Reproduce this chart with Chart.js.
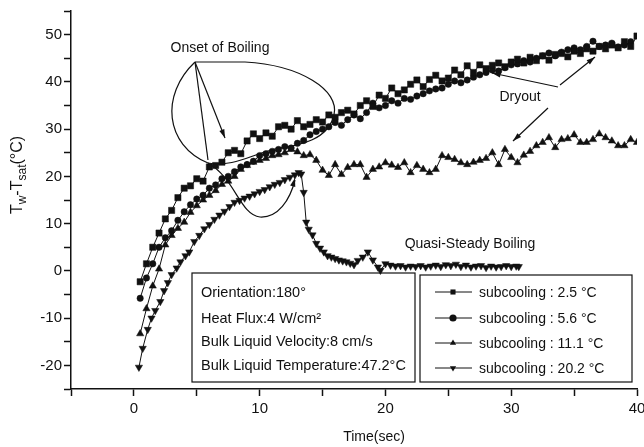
<!DOCTYPE html>
<html>
<head>
<meta charset="utf-8">
<script src="https://cdn.jsdelivr.net/npm/chart.js"></script>
<style>
body { margin: 0; background: #fff; }
</style>
</head>
<body>
<canvas id="chart" width="644" height="447"></canvas>
<script>
// time axis shared by the first three runs (s)
var times = [0.5, 1, 1.5, 2, 2.5, 3, 3.5, 4, 4.5, 5, 5.5, 6, 6.5, 7, 7.5, 8, 8.5, 9, 9.5, 10,
  10.5, 11, 11.5, 12, 12.5, 13, 13.5, 14, 14.5, 15, 15.5, 16, 16.5, 17, 17.5, 18, 18.5, 19, 19.5, 20,
  20.5, 21, 21.5, 22, 22.5, 23, 23.5, 24, 24.5, 25, 25.5, 26, 26.5, 27, 27.5, 28, 28.5, 29, 29.5, 30,
  30.5, 31, 31.5, 32, 32.5, 33, 33.5, 34, 34.5, 35, 35.5, 36, 36.5, 37, 37.5, 38, 38.5, 39, 39.5, 40];

// Tw - Tsat (C)
var sub25 = [-2.3, 1.5, 5, 8, 11, 12.8, 15.5, 17.5, 18, 19.5, 19, 22, 22.3, 23, 25, 25.5, 24.8, 27.5, 29, 28,
  29.2, 28.5, 30.5, 30.8, 30, 31.8, 30.5, 31, 32, 31.5, 33, 32.5, 33.5, 34, 33.2, 35, 36, 34.8, 37.2, 36.5,
  38.7, 37.5, 38.3, 39.5, 40.4, 39, 40.5, 41.4, 40.2, 40.8, 42.5, 41.5, 43.4, 42, 43.6, 42.8, 43.5, 44, 43.2, 44.2,
  44.8, 44, 45.2, 44.5, 45.5, 44.6, 45.8, 46, 45.3, 46.5, 46, 47, 46.5, 47.5, 47, 47.8, 47.2, 48.5, 47.5, 49.7];

var sub56 = [-5.8, -1.5, 1.5, 5, 7, 8.5, 10.7, 12.5, 14, 15.2, 16, 17.5, 18.2, 19.5, 20, 21, 22, 22.5, 23.2, 24.4,
  24.8, 25.3, 25.7, 26.3, 26, 27, 27.6, 28.8, 29.5, 30, 30.5, 31.4, 30.8, 32, 33, 32.2, 33.5, 35.5, 34.5, 35,
  36, 35.5, 36.5, 36.3, 37, 37.5, 38.1, 38.5, 38.7, 39.5, 40.2, 39.8, 40.4, 41, 41.5, 42, 42.5, 42.3, 43, 43.6,
  43.8, 44.5, 44.2, 45, 45.5, 46.1, 45.5, 46.3, 46.8, 47.2, 46.8, 47.5, 48.6, 47.5, 47.8, 48.2, 47.4, 47.8, 48.5];

var sub111 = [-13.3, -8, -3.2, 0.4, 5.5, 7.5, 9, 10.3, 12.4, 13.8, 15, 16, 17, 18.3, 19, 20, 21.5, 22.3, 23, 23.4,
  23.8, 24.4, 24.6, 25, 25.7, 25.2, 24.4, 24.6, 23.4, 21.3, 20.2, 22.5, 20.4, 21.9, 22.5, 22.5, 19.8, 21.5, 22, 22.9,
  22.4, 21.9, 22.9, 20.8, 22.3, 21.5, 20.8, 21.5, 24.4, 24, 23.6, 22.9, 22.5, 23, 23.4, 23.8, 25, 22.5, 25.7, 24,
  22.9, 24.5, 25.3, 26.5, 27.2, 28.2, 26.1, 27.8, 28, 28.8, 27.2, 27.2, 27.8, 29, 28.2, 27.5, 26.5, 26.5, 27.8, 27.2];

// the 20.2 C run is sampled on its own clock
var times202 = [0.4, 0.7, 1.1, 1.4, 1.7, 2.1, 2.4, 2.7, 3.0, 3.4, 3.7, 4.1, 4.4, 4.8, 5.2, 5.6, 6.0, 6.4, 6.8, 7.2,
  7.6, 8.0, 8.4, 8.8, 9.2, 9.6, 10.0, 10.4, 10.8, 11.2, 11.6, 12.0, 12.4, 12.8, 13.1, 13.3, 13.5, 13.7, 13.9, 14.2,
  14.5, 14.8, 15.1, 15.4, 15.7, 16.0, 16.3, 16.6, 16.9, 17.2, 17.5, 17.8, 18.2, 18.6, 19.0, 19.4, 19.6, 20.0, 20.4, 20.8,
  21.2, 21.6, 22.0, 22.4, 22.8, 23.2, 23.6, 24.0, 24.4, 24.8, 25.2, 25.6, 26.0, 26.4, 26.8, 27.2, 27.6, 28.0, 28.4, 28.8,
  29.2, 29.6, 30.0, 30.4, 30.6];
var sub202 = [-20.4, -16.4, -12.4, -10, -8.4, -6.5, -4.2, -2.5, -0.8, 0.6, 1.9, 3.2, 4, 6.2, 7.5, 8.9, 9.8, 10.9, 11.8, 12.6,
  13.6, 14.5, 14.9, 15.4, 15.8, 16.3, 16.8, 17.2, 17.8, 18.3, 18.7, 19.3, 19.8, 20.3, 20.8, 20.5, 16.6, 10.3, 8.8, 7.6,
  5.8, 4.8, 4, 3.2, 2.9, 2.6, 2.3, 2.1, 1.9, 1.6, 1.3, 2.2, 2.9, 4, 2.3, 0.8, 0.1, 1.5, 1.2, 1.0,
  1.1, 0.8, 1.0, 0.9, 1.1, 0.8, 1.0, 1.2, 0.9, 1.3, 1.1, 1.4, 0.9, 1.2, 0.8, 1.0, 1.1, 0.7, 1.0, 0.8,
  0.9, 1.1, 0.9, 1.0, 0.9];

var labels = ["subcooling : 2.5 °C", "subcooling : 5.6 °C", "subcooling : 11.1 °C", "subcooling : 20.2 °C"];
var infoLines = ["Orientation:180°", "Heat Flux:4 W/cm²", "Bulk Liquid Velocity:8 cm/s", "Bulk Liquid Temperature:47.2°C"];

function pts(t, v) {
  var out = [];
  for (var i = 0; i < v.length; i++) out.push({x: t[i], y: v[i]});
  return out;
}

function series(label, data, style, radius, rot) {
  return {
    label: label,
    data: data,
    borderColor: "#111",
    borderWidth: 1,
    backgroundColor: "#111",
    pointBackgroundColor: "#111",
    pointBorderColor: "#111",
    pointBorderWidth: 0.5,
    pointStyle: style,
    pointRadius: radius,
    pointRotation: rot,
    tension: 0,
    fill: false
  };
}

function marker(ctx, style, x, y, r, rot) {
  ctx.beginPath();
  if (style == "rect") {
    var s = r * Math.SQRT1_2;
    ctx.rect(x - s, y - s, 2 * s, 2 * s);
  } else if (style == "circle") {
    ctx.arc(x, y, r, 0, Math.PI * 2);
  } else {
    var d = rot == 180 ? -1 : 1;
    ctx.moveTo(x, y - d * r);
    ctx.lineTo(x - r * 0.866, y + d * r / 2);
    ctx.lineTo(x + r * 0.866, y + d * r / 2);
    ctx.closePath();
  }
  ctx.fill();
}

function arrowHead(ctx, x1, y1, x2, y2) {
  var a = Math.atan2(y2 - y1, x2 - x1);
  ctx.beginPath();
  ctx.moveTo(x2, y2);
  ctx.lineTo(x2 - 9 * Math.cos(a - 0.3), y2 - 9 * Math.sin(a - 0.3));
  ctx.lineTo(x2 - 9 * Math.cos(a + 0.3), y2 - 9 * Math.sin(a + 0.3));
  ctx.closePath();
  ctx.fill();
}

function arrow(ctx, x1, y1, x2, y2) {
  ctx.beginPath();
  ctx.moveTo(x1, y1);
  ctx.lineTo(x2, y2);
  ctx.stroke();
  arrowHead(ctx, x1, y1, x2, y2);
}

var notes = {
  id: "notes",
  afterDraw: function (chart) {
    var ctx = chart.ctx;
    ctx.save();
    ctx.fillStyle = "#111";
    ctx.strokeStyle = "#111";
    ctx.lineWidth = 1.2;
    ctx.font = "14px 'Liberation Sans', Arial, sans-serif";

    // onset of boiling
    ctx.textAlign = "center";
    ctx.textBaseline = "middle";
    ctx.fillText("Onset of Boiling", 220, 48);
    ctx.beginPath();
    ctx.moveTo(195, 62); ctx.lineTo(208, 160);
    ctx.stroke();
    arrow(ctx, 195, 62, 225, 138);
    ctx.beginPath();
    ctx.moveTo(195, 62);
    ctx.bezierCurveTo(160, 95, 165, 145, 208, 163);
    ctx.bezierCurveTo(235, 178, 240, 215, 260, 217);
    ctx.bezierCurveTo(278, 218, 290, 200, 295, 180);
    ctx.stroke();
    arrowHead(ctx, 290, 196, 295, 178);
    ctx.beginPath();
    ctx.moveTo(195, 62);
    ctx.lineTo(245, 62);
    ctx.bezierCurveTo(300, 65, 340, 90, 334, 115);
    ctx.bezierCurveTo(328, 140, 300, 145, 280, 148);
    ctx.bezierCurveTo(255, 152, 235, 168, 208, 163);
    ctx.stroke();

    // dryout
    ctx.fillText("Dryout", 520, 97);
    arrow(ctx, 560, 85, 595, 57);
    arrow(ctx, 558, 87, 492, 73);
    arrow(ctx, 548, 108, 513, 141);

    ctx.fillText("Quasi-Steady Boiling", 470, 244);

    // info box
    ctx.strokeRect(192, 273, 223, 109);
    ctx.textAlign = "left";
    ctx.textBaseline = "alphabetic";
    ctx.font = "14.5px 'Liberation Sans', Arial, sans-serif";
    var iy = [297, 323, 346, 370];
    for (var i = 0; i < infoLines.length; i++) ctx.fillText(infoLines[i], 201, iy[i]);

    // legend box
    ctx.strokeRect(420, 275, 212, 107);
    var ly = [292, 318, 343, 368];
    ctx.textBaseline = "middle";
    ctx.font = "14px 'Liberation Sans', Arial, sans-serif";
    chart.data.datasets.forEach(function (ds, i) {
      ctx.lineWidth = 1;
      ctx.beginPath();
      ctx.moveTo(435, ly[i]); ctx.lineTo(472, ly[i]);
      ctx.stroke();
      marker(ctx, ds.pointStyle, 453, ly[i], 3.6, ds.pointRotation);
      ctx.fillText(ds.label, 479, ly[i] + 1);
    });

    // axis titles
    ctx.textAlign = "center";
    ctx.fillText("Time(sec)", 374, 437);

    ctx.translate(18, 175);
    ctx.rotate(-Math.PI / 2);
    var big = "16px 'Liberation Sans', Arial, sans-serif";
    var small = "12px 'Liberation Sans', Arial, sans-serif";
    var parts = [["T", big, 0], ["w", small, 5], ["-T", big, 0], ["sat", small, 5], ["(°C)", big, 0]];
    var w = 0;
    parts.forEach(function (p) { ctx.font = p[1]; w += ctx.measureText(p[0]).width; });
    var x = -w / 2;
    ctx.textAlign = "left";
    ctx.textBaseline = "middle";
    parts.forEach(function (p) {
      ctx.font = p[1];
      ctx.fillText(p[0], x, p[2]);
      x += ctx.measureText(p[0]).width;
    });
    ctx.restore();
  }
};

new Chart(document.getElementById("chart"), {
  type: "line",
  data: {
    datasets: [
      series(labels[0], pts(times, sub25), "rect", 4.4, 0),
      series(labels[1], pts(times, sub56), "circle", 3.2, 0),
      series(labels[2], pts(times, sub111), "triangle", 4.2, 0),
      series(labels[3], pts(times202, sub202), "triangle", 4.2, 180)
    ]
  },
  options: {
    responsive: false,
    animation: false,
    layout: {padding: {top: 10, right: 7, left: 0, bottom: 0}},
    plugins: {legend: {display: false}, tooltip: {enabled: false}},
    scales: {
      x: {
        type: "linear",
        min: -5, max: 40,
        afterFit: function (s) { s.height = 58; s.paddingRight = 0; s.paddingLeft = 0; },
        border: {color: "#111", width: 1.5},
        grid: {drawOnChartArea: false, tickLength: 7, color: "#111", tickWidth: 1.5},
        ticks: {
          stepSize: 5, color: "#111", padding: 4,
          font: {family: "'Liberation Sans', Arial, sans-serif", size: 15},
          callback: function (v) { return v % 10 == 0 ? v : ""; }
        }
      },
      y: {
        min: -25, max: 55,
        afterFit: function (s) { s.width = 71; },
        border: {color: "#111", width: 1.5},
        grid: {drawOnChartArea: false, tickLength: 7, color: "#111", tickWidth: 1.5},
        ticks: {
          stepSize: 5, color: "#111", padding: 2,
          font: {family: "'Liberation Sans', Arial, sans-serif", size: 15},
          callback: function (v) { return v % 10 == 0 ? v : ""; }
        }
      }
    }
  },
  plugins: [notes]
});
</script>
</body>
</html>
